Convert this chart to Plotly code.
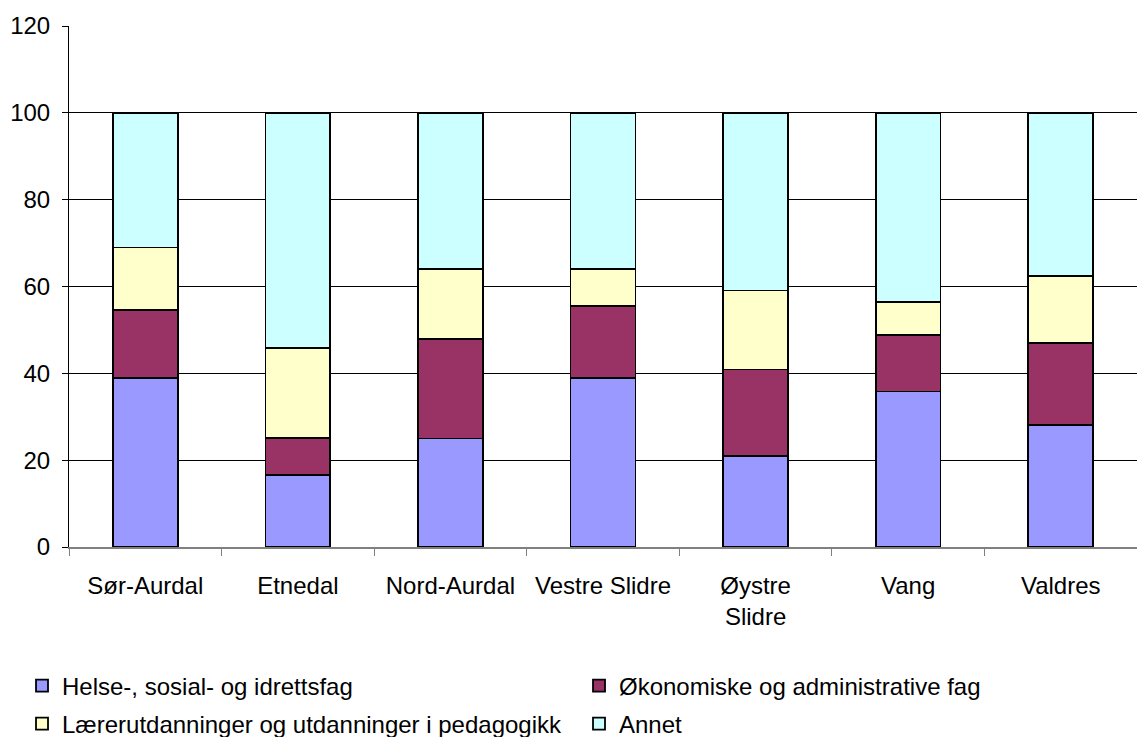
import plotly.graph_objects as go

categories = ["Sør-Aurdal", "Etnedal", "Nord-Aurdal", "Vestre Slidre", "Øystre<br>Slidre", "Vang", "Valdres"]
helse = [39.0, 16.5, 25.0, 39.0, 20.9, 35.8, 28.1]
okonomi = [15.6, 8.6, 23.0, 16.6, 20.0, 13.0, 18.9]
laerer = [14.4, 20.7, 16.1, 8.5, 18.2, 7.7, 15.4]
annet = [31.0, 54.2, 35.9, 35.9, 40.9, 43.5, 37.6]

series = [
    ("Helse-, sosial- og idrettsfag", helse, "#9999FF", "legend"),
    ("Økonomiske og administrative fag", okonomi, "#993366", "legend"),
    ("Lærerutdanninger og utdanninger i pedagogikk", laerer, "#FFFFCC", "legend2"),
    ("Annet", annet, "#CCFFFF", "legend2"),
]
yticks = [0, 20, 40, 60, 80, 100, 120]

fig = go.Figure()
for name, vals, col, lg in series:
    fig.add_trace(go.Bar(x=categories, y=vals, name=name, legend=lg,
                         marker=dict(color=col, line=dict(color="black", width=1.8))))

font = "Liberation Sans, Arial, sans-serif"
FS = 24
PH = 521.0
leg_common = dict(orientation="h", xanchor="left", yanchor="middle",
                  entrywidth=512, entrywidthmode="pixels", traceorder="normal",
                  font=dict(size=FS), itemwidth=30, bgcolor="rgba(0,0,0,0)")
fig.update_layout(
    barmode="stack",
    bargap=0.575,
    width=1145, height=737,
    margin=dict(l=61, r=16, t=18, b=198, autoexpand=False),
    paper_bgcolor="white", plot_bgcolor="white",
    font=dict(family=font, size=FS, color="black"),
    showlegend=True,
    legend=dict(x=-0.044, y=-139 / PH, **leg_common),
    legend2=dict(x=-0.044, y=-177 / PH, **leg_common),
    xaxis=dict(showgrid=False, showline=True, linecolor="#808080", linewidth=1.5,
               ticks="outside", tickson="boundaries", ticklen=7, tickcolor="#808080",
               tickfont=dict(size=FS), automargin=False, ticklabelstandoff=16),
    yaxis=dict(range=[0, 120], tickvals=yticks, showgrid=True, gridcolor="black",
               gridwidth=1, showline=True, linecolor="black", linewidth=1,
               ticks="outside", ticklen=6, tickcolor="black", zeroline=False,
               tickfont=dict(size=FS), automargin=False, ticklabelstandoff=7),
)
fig.write_html("out.html")
